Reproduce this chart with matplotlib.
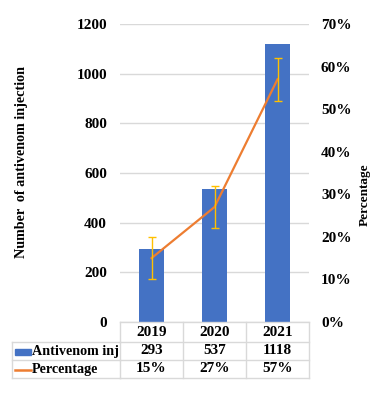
import matplotlib
matplotlib.use("Agg")
import matplotlib.pyplot as plt
from matplotlib.lines import Line2D
from matplotlib.patches import Rectangle
from matplotlib.transforms import blended_transform_factory
import numpy as np

years = ["2019", "2020", "2021"]
injections = [293, 537, 1118]
percentage = [0.15, 0.27, 0.57]
pct_err = [0.05, 0.05, 0.05]
pct_labels = ["15%", "27%", "57%"]

BLUE = "#4472C4"
ORANGE = "#ED7D31"
GOLD = "#FFC000"
GRID = "#D9D9D9"

plt.rcParams['font.family'] = ['Liberation Serif', 'DejaVu Serif']
plt.rcParams['font.weight'] = 'bold'

W, H = 380, 394
fig = plt.figure(figsize=(W / 100, H / 100), dpi=100)
L, R, T, B = 120, 309, 24, 322
ax = fig.add_axes([L / W, 1 - B / H, (R - L) / W, (B - T) / H])
x = np.arange(len(years))
ax.bar(x, injections, width=0.4, color=BLUE, zorder=3)
ax.set_xlim(-0.5, 2.5)
ax.set_ylim(0, 1200)
ax.set_yticks(range(0, 1201, 200))
ax.yaxis.grid(True, color=GRID, linewidth=1)
ax.set_axisbelow(True)
for s in ax.spines.values():
    s.set_visible(False)
ax.tick_params(axis='y', length=0, pad=9.4, labelsize=11)
ax.set_xticks([])
for lab in ax.get_yticklabels():
    lab.set_fontweight('bold')

ax2 = ax.twinx()
ax2.plot(x, percentage, color=ORANGE, linewidth=1.6, zorder=4)
ax2.errorbar(x, percentage, yerr=pct_err, fmt='none', ecolor=GOLD, elinewidth=1, capsize=3, zorder=5)
ax2.set_ylim(0, 0.7)
ax2.set_yticks(np.arange(0, 0.71, 0.1))
ax2.set_yticklabels([f"{int(round(v*100))}%" for v in np.arange(0, 0.71, 0.1)])
for s in ax2.spines.values():
    s.set_visible(False)
ax2.tick_params(axis='y', length=0, pad=8.6, labelsize=11)
for lab in ax2.get_yticklabels():
    lab.set_fontweight('bold')

def fy(py):
    return 1 - py / H

fig.text(22 / W, fy(162), "Number  of antivenom injection", rotation=90, ha='center', va='center',
         fontsize=10.2, fontweight='bold')
fig.text(365 / W, fy(195), "Percentage", rotation=90, ha='center', va='center',
         fontsize=9.5, fontweight='bold')

# Data table
bt = blended_transform_factory(ax.transData, fig.transFigure)
ft = fig.transFigure
rows_y = [322, 342, 360, 378]
x_left = 12 / W
col_edges = [-0.5, 0.5, 1.5, 2.5]
lw = 1
for i, yy in enumerate(rows_y):
    fig.add_artist(Line2D([L / W, R / W], [fy(yy), fy(yy)], transform=ft, color=GRID, lw=lw))
    if i >= 1:
        fig.add_artist(Line2D([x_left, L / W], [fy(yy), fy(yy)], transform=ft, color=GRID, lw=lw))
for ce in col_edges:
    fig.add_artist(Line2D([ce, ce], [fy(rows_y[0]), fy(rows_y[-1])], transform=bt, color=GRID, lw=lw))
fig.add_artist(Line2D([x_left, x_left], [fy(rows_y[1]), fy(rows_y[-1])], transform=ft, color=GRID, lw=lw))

fs = 10.2
fsn = 11
for i, yr in enumerate(years):
    fig.text(i, fy((rows_y[0] + rows_y[1]) / 2), yr, transform=bt, ha='center', va='center', fontsize=fsn, fontweight='bold')
    fig.text(i, fy((rows_y[1] + rows_y[2]) / 2), str(injections[i]), transform=bt, ha='center', va='center', fontsize=fsn, fontweight='bold')
    fig.text(i, fy((rows_y[2] + rows_y[3]) / 2), pct_labels[i], transform=bt, ha='center', va='center', fontsize=fsn, fontweight='bold')

fig.add_artist(Rectangle((15 / W, fy(355)), 16 / W, 6 / H, transform=ft, color=BLUE))
fig.add_artist(Line2D([15 / W, 31 / W], [fy(370), fy(370)], transform=ft, color=ORANGE, lw=1.8))
fig.text(32 / W, fy((rows_y[1] + rows_y[2]) / 2), "Antivenom inj", ha='left', va='center', fontsize=fs, fontweight='bold')
fig.text(32 / W, fy((rows_y[2] + rows_y[3]) / 2), "Percentage", ha='left', va='center', fontsize=fs, fontweight='bold')

fig.savefig("out.png", dpi=100, facecolor='white')
